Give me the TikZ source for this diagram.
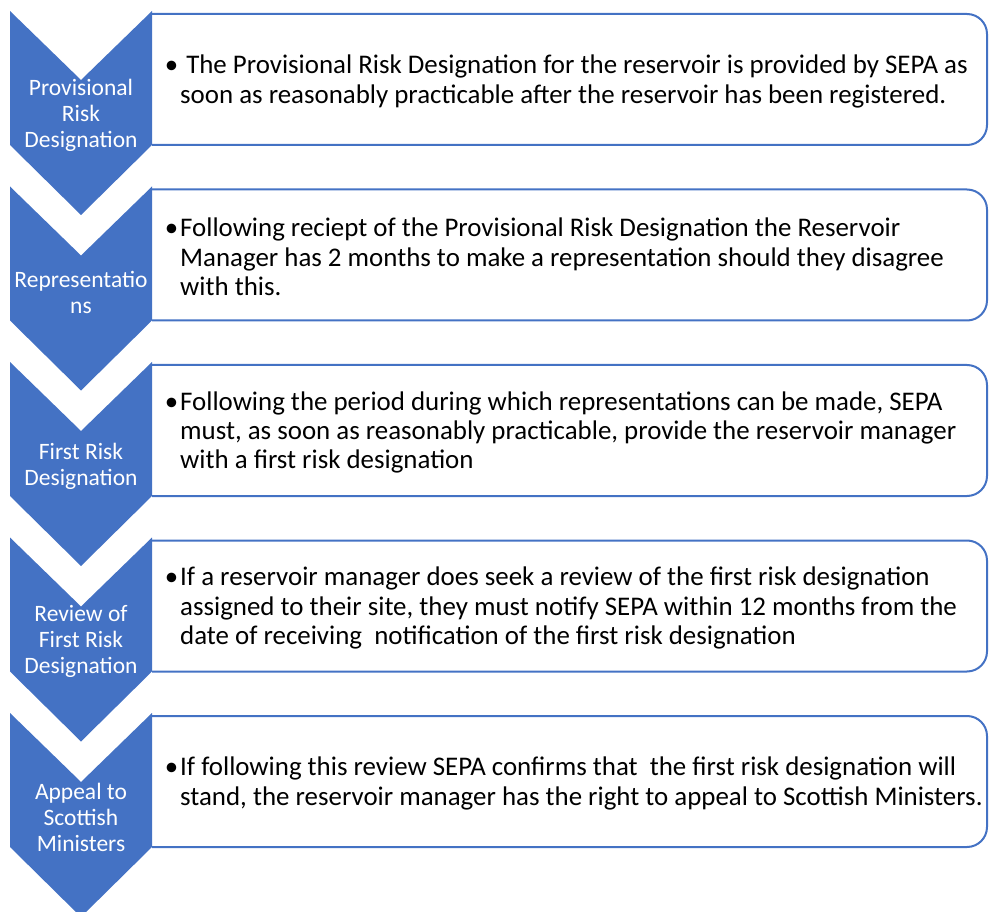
\documentclass[tikz,border=0pt]{standalone}
\usepackage{fontspec}
\setmainfont{Carlito}
\usepackage{tikz}
\definecolor{smartblue}{HTML}{4472C4}

\begin{document}
\begin{tikzpicture}[x=1pt,y=-1pt,
    stage/.style={fill=smartblue},
    stagebox/.style={draw=smartblue,line width=2pt,rounded corners=20pt},
    stagelabel/.style={text=white,align=center,inner sep=0pt,font=\fontsize{23.5}{26}\selectfont},
    stagetext/.style={anchor=west,align=left,inner sep=0pt,font=\fontsize{26.9}{29.3}\selectfont}]
    \useasboundingbox (0,0) rectangle (989,912);
    \clip (0,0) rectangle (989,912);
    \foreach \n in {0,...,4}{
        \begin{scope}[shift={(0,175.5*\n)}]
            \draw[stagebox] (152,14) -- (987,14) -- (987,145) -- (152,145);
            \fill[stage] (10,11) -- (81,80) -- (152,11) -- (152,145) -- (81,215) -- (10,145) -- cycle;
        \end{scope}
    }
    \node[stagelabel] (prov) at (81,115) {Provisional\\Risk\\Designation};
    \node[stagelabel] (repr) at (81,292) {Representatio\\ns};
    \node[stagelabel] (first) at (81,466) {First Risk\\Designation};
    \node[stagelabel] (review) at (81,641) {Review of\\First Risk\\Designation};
    \node[stagelabel] (appeal) at (81,817) {Appeal to\\Scottish\\Ministers};
    \node[stagetext] (provtext) at (180,81.5) {\llap{\textbullet\kern2pt}\ The Provisional Risk Designation for the reservoir is provided by SEPA as\\soon as reasonably practicable after the reservoir has been registered.};
    \node[stagetext] (reprtext) at (180,257) {\llap{\textbullet\kern2pt}Following reciept of the Provisional Risk Designation the Reservoir\\Manager has 2 months to make a representation should they disagree\\with this.};
    \node[stagetext] (firsttext) at (180,432.5) {\llap{\textbullet\kern2pt}Following the period during which representations can be made, SEPA\\must, as soon as reasonably practicable, provide the reservoir manager\\with a first risk designation};
    \node[stagetext] (reviewtext) at (180,608) {\llap{\textbullet\kern2pt}If a reservoir manager does seek a review of the first risk designation\\assigned to their site, they must notify SEPA within 12 months from the\\date of receiving\ \ notification of the first risk designation};
    \node[stagetext] (appealtext) at (180,783.5) {\llap{\textbullet\kern2pt}If following this review SEPA confirms that\ \ the first risk designation will\\stand, the reservoir manager has the right to appeal to Scottish Ministers.};
\end{tikzpicture}
\end{document}
